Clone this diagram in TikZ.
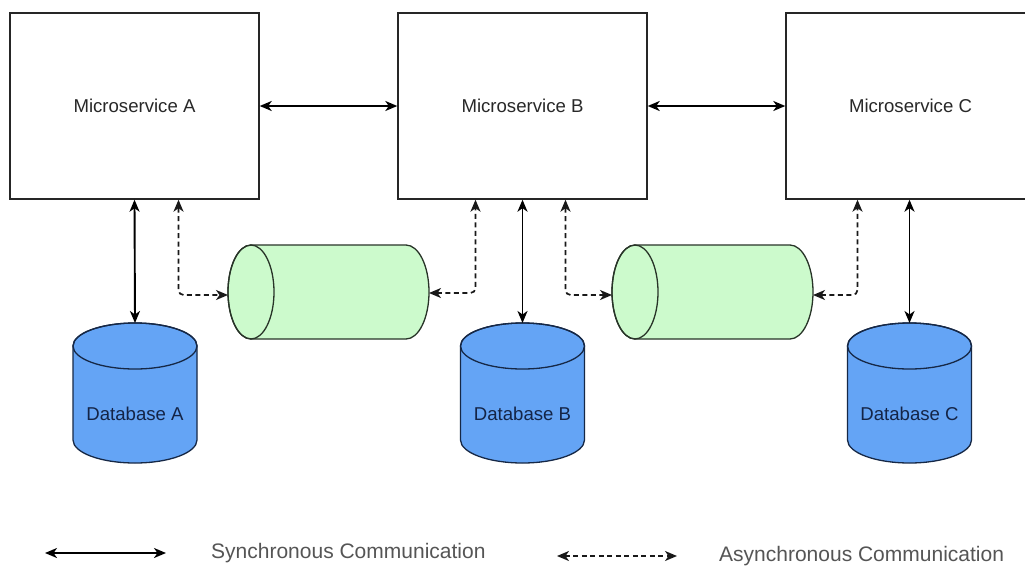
\documentclass[tikz,border=0pt]{standalone}
\usepackage{fontspec}
\setmainfont{Liberation Sans}
\usetikzlibrary{arrows.meta}

\definecolor{dbfill}{RGB}{100,164,245}
\definecolor{dbline}{RGB}{22,40,70}
\definecolor{dbtext}{RGB}{20,36,70}
\definecolor{qfill}{RGB}{204,250,204}
\definecolor{qline}{RGB}{40,52,40}
\definecolor{boxtext}{RGB}{40,40,40}
\definecolor{legtext}{RGB}{85,85,85}

% vertical database cylinder: #1 centre x, #2 top y, #3 width, #4 height, #5 cap radius
\newcommand\dbdrum[5]{%
  \filldraw[fill=dbfill, draw=dbline, line width=1.3pt]
    ({#1-#3/2},{#2+#5}) -- ({#1-#3/2},{#2+#4-#5})
    arc[start angle=180, end angle=0, x radius={#3/2}, y radius=#5]
    -- ({#1+#3/2},{#2+#5})
    arc[start angle=0, end angle=-180, x radius={#3/2}, y radius=#5] -- cycle;
  \draw[dbline, line width=1.3pt] (#1,{#2+#5}) ellipse[x radius={#3/2}, y radius=#5];
}
% horizontal queue cylinder: #1 left x, #2 top y, #3 width, #4 height, #5 cap radius
\newcommand\queuedrum[5]{%
  \filldraw[fill=qfill, draw=qline, line width=1.3pt]
    ({#1+#5},#2) -- ({#1+#3-#5},#2)
    arc[start angle=-90, end angle=90, x radius=#5, y radius={#4/2}]
    -- ({#1+#5},{#2+#4})
    arc[start angle=90, end angle=270, x radius=#5, y radius={#4/2}] -- cycle;
  \draw[qline, line width=1.3pt] ({#1+#5},{#2+#4/2}) ellipse[x radius=#5, y radius={#4/2}];
}

\tikzset{
  service/.style={draw=black!85, line width=1.4pt, fill=white, inner sep=0pt,
    minimum width=249pt, minimum height=186pt, text=boxtext,
    font=\fontsize{18.6}{22}\selectfont},
  holder/.style={inner sep=0pt, outer sep=0pt},
  dblabel/.style={text=dbtext, font=\fontsize{18.6}{22}\selectfont},
  legend/.style={text=legtext, anchor=west, inner sep=0pt,
    font=\fontsize{21}{25}\selectfont},
  sync/.style={line width=1.9pt, black, {Stealth[length=12pt, width=10pt, inset=3.5pt]}-{Stealth[length=12pt, width=10pt, inset=3.5pt]}},
  async/.style={line width=1.7pt, black!90, dash pattern=on 5pt off 3.5pt,
    rounded corners=5pt,
    {Stealth[length=12pt, width=10pt, inset=3.5pt]}-{Stealth[length=12pt, width=10pt, inset=3.5pt]}},
}

\begin{document}
\begin{tikzpicture}[x=1pt, y=-1pt]
\clip (0,0) rectangle (1025,568);
\fill[white] (0,0) rectangle (1025,568);

% services
\node[service] (svcA) at (134.5,106) {Microservice A};
\node[service] (svcB) at (522.5,106) {Microservice B};
\node[service] (svcC) at (910.5,106) {Microservice C};

% message queues
\queuedrum{228}{245}{201}{94}{23}
\node[holder, minimum width=201pt, minimum height=94pt] (q1) at (328.5,292) {};
\queuedrum{612}{245}{201}{94}{23}
\node[holder, minimum width=201pt, minimum height=94pt] (q2) at (712.5,292) {};

% databases
\dbdrum{135}{323}{124}{140}{23}
\node[holder, minimum width=124pt, minimum height=140pt] (dbA) at (135,393) {};
\node[dblabel] (dbAtext) at (135,414) {Database A};
\dbdrum{522.5}{323}{124}{140}{23}
\node[holder, minimum width=124pt, minimum height=140pt] (dbB) at (522.5,393) {};
\node[dblabel] (dbBtext) at (522.5,414) {Database B};
\dbdrum{909.5}{323}{124}{140}{23}
\node[holder, minimum width=124pt, minimum height=140pt] (dbC) at (909.5,393) {};
\node[dblabel] (dbCtext) at (909.5,414) {Database C};

% synchronous links
\draw[sync] (svcA.east) -- (svcB.west);
\draw[sync] (svcB.east) -- (svcC.west);
\draw[sync] (svcA.south) -- (dbA.north);
\draw[sync] (svcB.south) -- (dbB.north);
\draw[sync] (svcC.south -| dbC.north) -- (dbC.north);

% asynchronous links through the queues
\draw[async] ([xshift=44pt]svcA.south) |- ([yshift=-3pt]q1.west);
\draw[async] ([yshift=-1pt]q1.east) -| ([xshift=-47pt]svcB.south);
\draw[async] ([xshift=43pt]svcB.south) |- ([yshift=-3pt]q2.west);
\draw[async] ([yshift=-3pt]q2.east) -| ([xshift=-53pt]svcC.south);

% legend
\coordinate (ls1) at (45,553);
\coordinate (ls2) at (166,553);
\draw[sync] (ls1) -- (ls2);
\node[legend] (lsync) at (211,553) {Synchronous Communication};
\coordinate (la1) at (557,556);
\coordinate (la2) at (677,556);
\draw[async] (la1) -- (la2);
\node[legend] (lasync) at (719,556) {Asynchronous Communication};
\end{tikzpicture}
\end{document}
